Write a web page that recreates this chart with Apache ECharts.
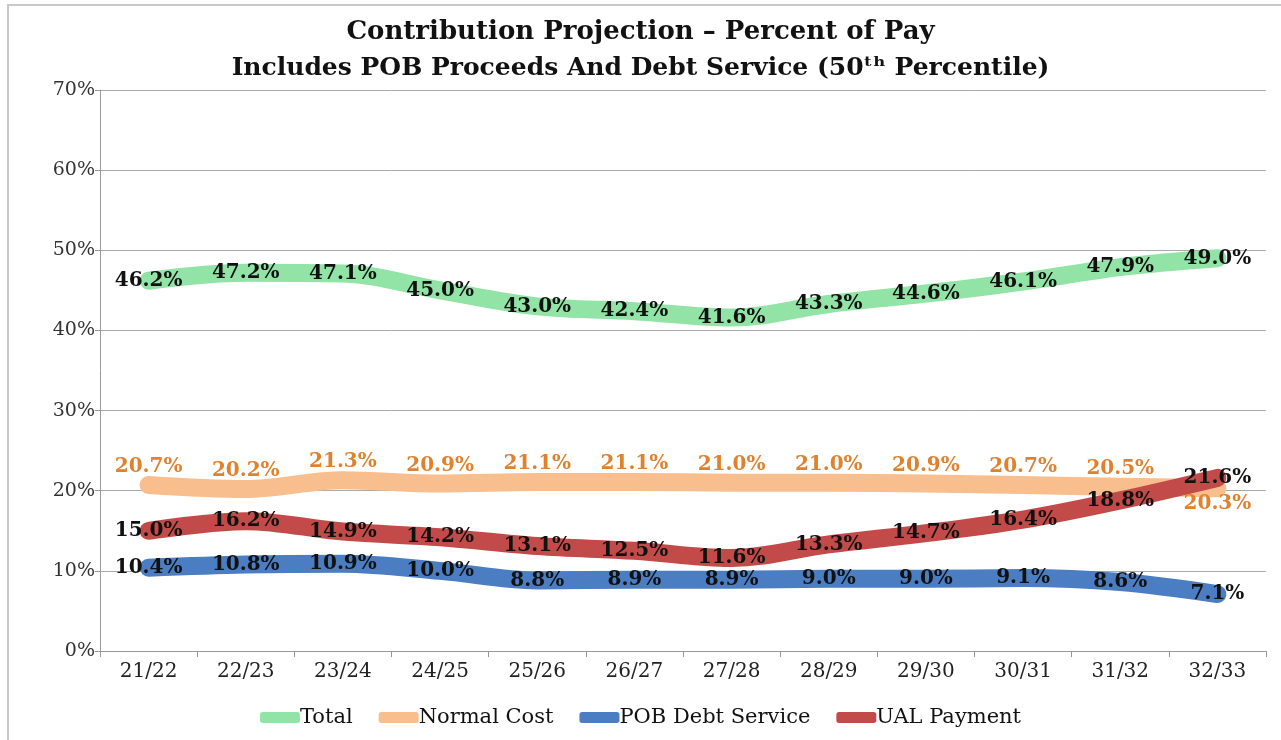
<!DOCTYPE html>
<html><head><meta charset="utf-8">
<script src="https://cdn.jsdelivr.net/npm/echarts@6/dist/echarts.min.js"></script>
<style>html,body{margin:0;padding:0;background:#fff}#c{width:1281px;height:740px}</style>
</head><body><div id="c"></div>
<script>
const categories = ['21/22','22/23','23/24','24/25','25/26','26/27','27/28','28/29','29/30','30/31','31/32','32/33'];
const total = [46.2,47.2,47.1,45.0,43.0,42.4,41.6,43.3,44.6,46.1,47.9,49.0];
const normalCost = [20.7,20.2,21.3,20.9,21.1,21.1,21.0,21.0,20.9,20.7,20.5,20.3];
const pobDebt = [10.4,10.8,10.9,10.0,8.8,8.9,8.9,9.0,9.0,9.1,8.6,7.1];
const ualPayment = [15.0,16.2,14.9,14.2,13.1,12.5,11.6,13.3,14.7,16.4,18.8,21.6];
const yTicks = [0,10,20,30,40,50,60,70];

const font = '"DejaVu Serif", "Liberation Serif", serif';
const lblBase = {show:true, fontFamily:font, fontWeight:'bold', fontSize:20, formatter: p => p.value.toFixed(1)+'%'};

function mk(name, data, color, label, width) {
  return {
    name, type:'line', data, smooth:0.35, symbol:'circle', symbolSize:0, showSymbol:true,
    lineStyle:{color, width:width||18, cap:'round', join:'round'}, itemStyle:{color},
    label
  };
}
const ncData = normalCost.map((v,i)=> i===normalCost.length-1 ? {value:v, label:{position:'bottom', offset:[0,-3]}} : v);

const chart = echarts.init(document.getElementById('c'));
chart.setOption({
  animation:false,
  textStyle:{fontFamily:font},
  graphic:[{type:'rect', shape:{x:8,y:5,width:1290,height:760}, style:{fill:'none', stroke:'#c8c8c8', lineWidth:2}, silent:true}],
  title:[
    {text:'Contribution Projection – Percent of Pay', left:'center', top:14, textStyle:{fontFamily:font, fontWeight:'bold', fontSize:26, color:'#111'}},
    {text:'Includes POB Proceeds And Debt Service (50ᵗʰ Percentile)', left:'center', top:51, textStyle:{fontFamily:font, fontWeight:'bold', fontSize:25, color:'#111'}}
  ],
  legend:{bottom:7, left:'center', itemWidth:40, itemHeight:11, itemGap:26, icon:'roundRect',
    textStyle:{fontFamily:font, fontSize:21, color:'#111', padding:[0,0,0,-5]},
    data:['Total','Normal Cost','POB Debt Service','UAL Payment']},
  grid:{left:100, right:15, top:90, bottom:89},
  xAxis:{type:'category', data:categories, boundaryGap:true,
    axisLine:{lineStyle:{color:'#999'}}, axisTick:{show:true, length:6, lineStyle:{color:'#999'}},
    axisLabel:{fontFamily:font, fontSize:20, color:'#222', margin:11}},
  yAxis:{type:'value', min:0, max:70, interval:10,
    axisLine:{show:true, lineStyle:{color:'#999'}}, axisTick:{show:true, length:5, lineStyle:{color:'#999'}},
    splitLine:{lineStyle:{color:'#aaa'}},
    axisLabel:{fontFamily:font, fontSize:19, color:'#333', margin:5, formatter: v => yTicks.includes(v) ? v+'%' : ''}},
  series:[
    mk('Total', total, '#92E3A6', Object.assign({}, lblBase, {position:'inside', color:'#111'})),
    mk('Normal Cost', ncData, '#F8BE8E', Object.assign({}, lblBase, {position:'top', distance:8, color:'#E0812E'})),
    mk('POB Debt Service', pobDebt, '#4A7DC2', Object.assign({}, lblBase, {position:'inside', color:'#111'})),
    mk('UAL Payment', ualPayment, '#C24B49', Object.assign({}, lblBase, {position:'inside', color:'#111'}))
  ]
});
</script></body></html>
